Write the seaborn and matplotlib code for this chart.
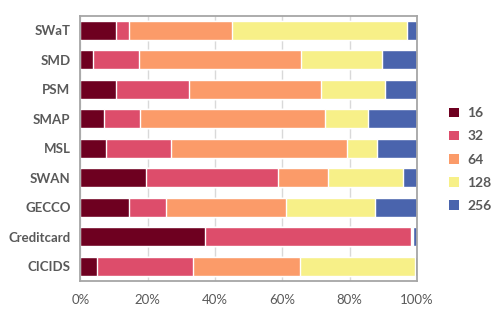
import numpy as np
import pandas as pd
import matplotlib
matplotlib.use("Agg")
import matplotlib.pyplot as plt
from matplotlib.patches import Patch
import seaborn as sns

sns.set_theme(style="white")
plt.rcParams['font.family'] = ['Lato', 'DejaVu Sans']

# datos (porcentaje de cada tamaño por dataset)
datasets = ["SWaT", "SMD", "PSM", "SMAP", "MSL", "SWAN", "GECCO", "Creditcard", "CICIDS"]
sizes = ["16", "32", "64", "128", "256"]
s16 = [10.6, 3.7, 10.5, 7.0, 7.6, 19.5, 14.4, 36.9, 4.9]
s32 = [3.7, 13.7, 21.7, 10.7, 19.2, 39.1, 10.9, 61.4, 28.4]
s64 = [30.6, 48.1, 39.3, 55.0, 52.4, 15.0, 35.8, 0.2, 31.9]
s128 = [52.1, 24.2, 19.0, 12.8, 8.9, 22.1, 26.5, 0.2, 34.2]
s256 = [3.0, 10.3, 9.5, 14.5, 11.9, 4.3, 12.4, 1.3, 0.6]
colors = ["#6e0020", "#dd4d6b", "#fb9b69", "#f7f088", "#4a64ad"]

df = pd.DataFrame({"dataset": datasets, "16": s16, "32": s32, "64": s64,
                   "128": s128, "256": s256})
cum = df[sizes].cumsum(axis=1)
cum = cum.div(cum["256"], axis=0) * 100

fig = plt.figure(figsize=(4.99, 3.19), dpi=100)
ax = fig.add_axes([0.161, 0.119, 0.675, 0.832])

# barras apiladas: se dibuja del acumulado mayor al menor
for s, c in reversed(list(zip(sizes, colors))):
    sns.barplot(x=cum[s], y=df["dataset"], color=c, orient="h", width=0.65,
                saturation=1, ax=ax, zorder=2)

ax.set_xlim(0, 100)
ax.set_xticks([0, 20, 40, 60, 80, 100])
ax.set_xticklabels([f"{v}%" for v in [0, 20, 40, 60, 80, 100]])
ax.set_xlabel("")
ax.set_ylabel("")
ax.grid(axis="x", color="#d9d9d9", linewidth=1, zorder=0)
ax.set_axisbelow(True)
for sp in ax.spines.values():
    sp.set_visible(True)
    sp.set_color("#a6a6a6")
    sp.set_linewidth(1.3)
ax.tick_params(axis="both", length=0)
ax.tick_params(axis="y", pad=7, labelsize=9.5, labelcolor="#595959")
ax.tick_params(axis="x", pad=9, labelsize=9.5, labelcolor="#595959")
for lab in ax.get_yticklabels():
    lab.set_fontweight("bold")

handles = [Patch(facecolor=c, edgecolor="none", label=s) for s, c in zip(sizes, colors)]
leg = fig.legend(handles=handles, loc="center left", bbox_to_anchor=(0.875, 0.5),
                 frameon=False, handlelength=0.7, handleheight=0.7,
                 handletextpad=0.6, labelspacing=0.8,
                 prop={"weight": "bold", "size": 10})
for t in leg.get_texts():
    t.set_color("#595959")

fig.savefig("out.png", dpi=100)
